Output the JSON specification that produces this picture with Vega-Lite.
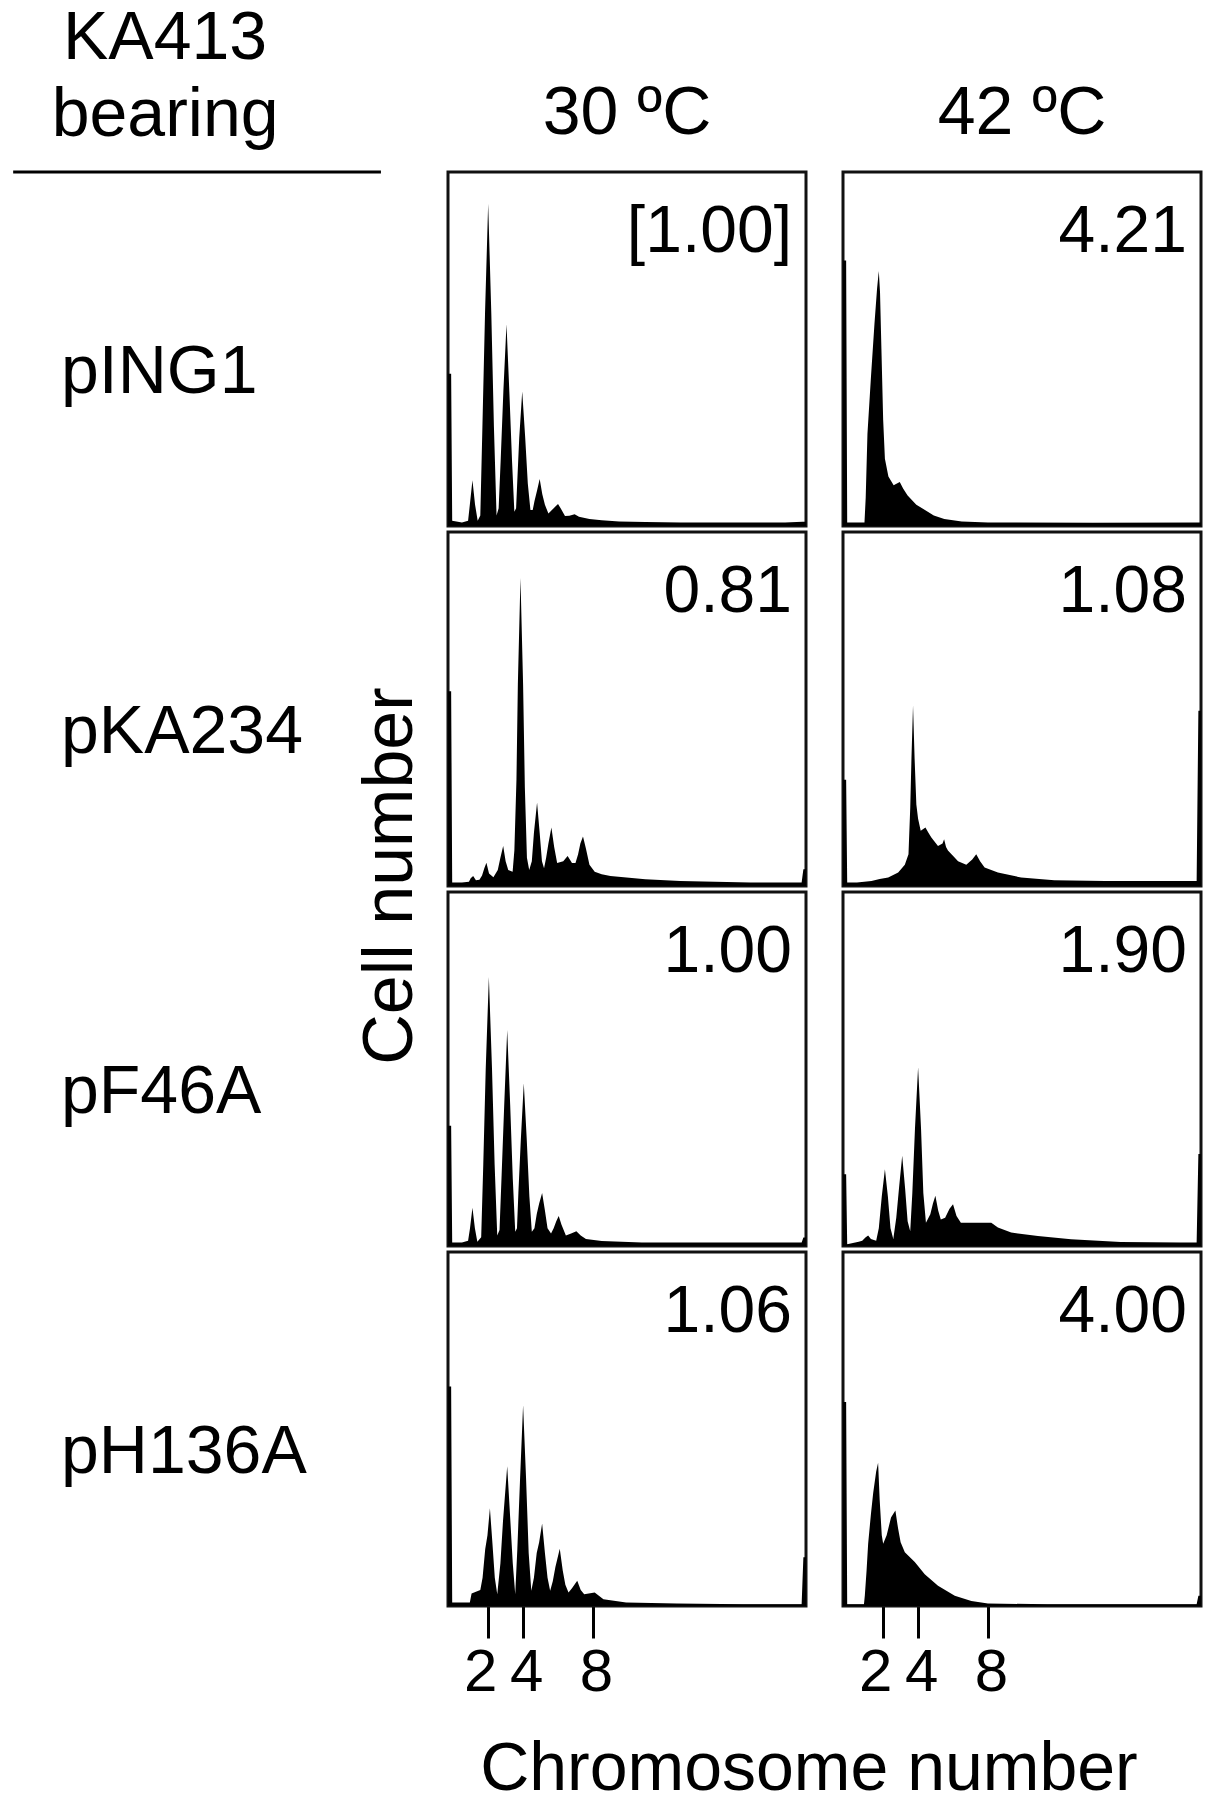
{
  "$schema": "https://vega.github.io/schema/vega-lite/v6.json",
  "padding": {"left": 10, "top": 3, "right": 5, "bottom": 0},
  "background": "white",
  "bounds": "flush",
  "spacing": {"row": 6, "column": 37},
  "data": {"values": [
    {"strain":"pING1","temp":"30 ºC","ratio":"[1.00]"},
    {"strain":"pING1","temp":"42 ºC","ratio":"4.21"},
    {"strain":"pKA234","temp":"30 ºC","ratio":"0.81"},
    {"strain":"pKA234","temp":"42 ºC","ratio":"1.08"},
    {"strain":"pF46A","temp":"30 ºC","ratio":"1.00"},
    {"strain":"pF46A","temp":"42 ºC","ratio":"1.90"},
    {"strain":"pH136A","temp":"30 ºC","ratio":"1.06"},
    {"strain":"pH136A","temp":"42 ºC","ratio":"4.00"},

    {"strain":"pING1","temp":"30 ºC","chrom":-0.3,"cells":43},
    {"strain":"pING1","temp":"30 ºC","chrom":-0.12,"cells":43},
    {"strain":"pING1","temp":"30 ºC","chrom":-0.06,"cells":1.5},
    {"strain":"pING1","temp":"30 ºC","chrom":0.5,"cells":1},
    {"strain":"pING1","temp":"30 ºC","chrom":0.85,"cells":1.5},
    {"strain":"pING1","temp":"30 ºC","chrom":0.95,"cells":6},
    {"strain":"pING1","temp":"30 ºC","chrom":1.1,"cells":12.9},
    {"strain":"pING1","temp":"30 ºC","chrom":1.25,"cells":6},
    {"strain":"pING1","temp":"30 ºC","chrom":1.4,"cells":1.5},
    {"strain":"pING1","temp":"30 ºC","chrom":1.55,"cells":3},
    {"strain":"pING1","temp":"30 ºC","chrom":1.67,"cells":28},
    {"strain":"pING1","temp":"30 ºC","chrom":1.82,"cells":60},
    {"strain":"pING1","temp":"30 ºC","chrom":2.0,"cells":91},
    {"strain":"pING1","temp":"30 ºC","chrom":2.18,"cells":60},
    {"strain":"pING1","temp":"30 ºC","chrom":2.33,"cells":28},
    {"strain":"pING1","temp":"30 ºC","chrom":2.48,"cells":3},
    {"strain":"pING1","temp":"30 ºC","chrom":2.6,"cells":5},
    {"strain":"pING1","temp":"30 ºC","chrom":2.72,"cells":19},
    {"strain":"pING1","temp":"30 ºC","chrom":2.87,"cells":38},
    {"strain":"pING1","temp":"30 ºC","chrom":3.05,"cells":57},
    {"strain":"pING1","temp":"30 ºC","chrom":3.22,"cells":37},
    {"strain":"pING1","temp":"30 ºC","chrom":3.37,"cells":18},
    {"strain":"pING1","temp":"30 ºC","chrom":3.5,"cells":4},
    {"strain":"pING1","temp":"30 ºC","chrom":3.6,"cells":5},
    {"strain":"pING1","temp":"30 ºC","chrom":3.67,"cells":13},
    {"strain":"pING1","temp":"30 ºC","chrom":3.78,"cells":25},
    {"strain":"pING1","temp":"30 ºC","chrom":3.95,"cells":38},
    {"strain":"pING1","temp":"30 ºC","chrom":4.12,"cells":25},
    {"strain":"pING1","temp":"30 ºC","chrom":4.27,"cells":12},
    {"strain":"pING1","temp":"30 ºC","chrom":4.42,"cells":4.5},
    {"strain":"pING1","temp":"30 ºC","chrom":4.55,"cells":4.5},
    {"strain":"pING1","temp":"30 ºC","chrom":4.65,"cells":7},
    {"strain":"pING1","temp":"30 ºC","chrom":4.8,"cells":10},
    {"strain":"pING1","temp":"30 ºC","chrom":4.95,"cells":13.3},
    {"strain":"pING1","temp":"30 ºC","chrom":5.1,"cells":9},
    {"strain":"pING1","temp":"30 ºC","chrom":5.25,"cells":6},
    {"strain":"pING1","temp":"30 ºC","chrom":5.45,"cells":3.5},
    {"strain":"pING1","temp":"30 ºC","chrom":5.65,"cells":4.5},
    {"strain":"pING1","temp":"30 ºC","chrom":5.85,"cells":5.5},
    {"strain":"pING1","temp":"30 ºC","chrom":6.0,"cells":6.2},
    {"strain":"pING1","temp":"30 ºC","chrom":6.15,"cells":5},
    {"strain":"pING1","temp":"30 ºC","chrom":6.4,"cells":2.8},
    {"strain":"pING1","temp":"30 ºC","chrom":6.65,"cells":2.9},
    {"strain":"pING1","temp":"30 ºC","chrom":6.95,"cells":3.3},
    {"strain":"pING1","temp":"30 ºC","chrom":7.2,"cells":2.6},
    {"strain":"pING1","temp":"30 ºC","chrom":7.8,"cells":2.0},
    {"strain":"pING1","temp":"30 ºC","chrom":8.5,"cells":1.6},
    {"strain":"pING1","temp":"30 ºC","chrom":9.5,"cells":1.3},
    {"strain":"pING1","temp":"30 ºC","chrom":11,"cells":1.1},
    {"strain":"pING1","temp":"30 ºC","chrom":13,"cells":1},
    {"strain":"pING1","temp":"30 ºC","chrom":16,"cells":1},
    {"strain":"pING1","temp":"30 ºC","chrom":19,"cells":1},
    {"strain":"pING1","temp":"30 ºC","chrom":20.0,"cells":1.2},
    {"strain":"pING1","temp":"30 ºC","chrom":20.2,"cells":1.2},

    {"strain":"pING1","temp":"42 ºC","chrom":-0.3,"cells":75},
    {"strain":"pING1","temp":"42 ºC","chrom":-0.12,"cells":75},
    {"strain":"pING1","temp":"42 ºC","chrom":-0.06,"cells":1},
    {"strain":"pING1","temp":"42 ºC","chrom":0.5,"cells":1},
    {"strain":"pING1","temp":"42 ºC","chrom":0.93,"cells":1},
    {"strain":"pING1","temp":"42 ºC","chrom":1.0,"cells":8},
    {"strain":"pING1","temp":"42 ºC","chrom":1.1,"cells":26},
    {"strain":"pING1","temp":"42 ºC","chrom":1.3,"cells":42},
    {"strain":"pING1","temp":"42 ºC","chrom":1.5,"cells":57},
    {"strain":"pING1","temp":"42 ºC","chrom":1.65,"cells":67},
    {"strain":"pING1","temp":"42 ºC","chrom":1.75,"cells":72},
    {"strain":"pING1","temp":"42 ºC","chrom":1.82,"cells":66},
    {"strain":"pING1","temp":"42 ºC","chrom":1.9,"cells":50},
    {"strain":"pING1","temp":"42 ºC","chrom":2.0,"cells":30},
    {"strain":"pING1","temp":"42 ºC","chrom":2.1,"cells":19},
    {"strain":"pING1","temp":"42 ºC","chrom":2.3,"cells":14},
    {"strain":"pING1","temp":"42 ºC","chrom":2.6,"cells":11.5},
    {"strain":"pING1","temp":"42 ºC","chrom":2.95,"cells":12.4},
    {"strain":"pING1","temp":"42 ºC","chrom":3.15,"cells":10.5},
    {"strain":"pING1","temp":"42 ºC","chrom":3.4,"cells":8.6},
    {"strain":"pING1","temp":"42 ºC","chrom":3.9,"cells":6},
    {"strain":"pING1","temp":"42 ºC","chrom":4.3,"cells":4.8},
    {"strain":"pING1","temp":"42 ºC","chrom":4.9,"cells":3},
    {"strain":"pING1","temp":"42 ºC","chrom":5.5,"cells":2},
    {"strain":"pING1","temp":"42 ºC","chrom":6.5,"cells":1.3},
    {"strain":"pING1","temp":"42 ºC","chrom":8,"cells":1},
    {"strain":"pING1","temp":"42 ºC","chrom":14,"cells":0.9},
    {"strain":"pING1","temp":"42 ºC","chrom":20.2,"cells":1},

    {"strain":"pKA234","temp":"30 ºC","chrom":-0.3,"cells":55},
    {"strain":"pKA234","temp":"30 ºC","chrom":-0.12,"cells":55},
    {"strain":"pKA234","temp":"30 ºC","chrom":-0.06,"cells":1},
    {"strain":"pKA234","temp":"30 ºC","chrom":0.5,"cells":1},
    {"strain":"pKA234","temp":"30 ºC","chrom":0.9,"cells":1.2},
    {"strain":"pKA234","temp":"30 ºC","chrom":1.0,"cells":2.2},
    {"strain":"pKA234","temp":"30 ºC","chrom":1.14,"cells":2.8},
    {"strain":"pKA234","temp":"30 ºC","chrom":1.3,"cells":1.6},
    {"strain":"pKA234","temp":"30 ºC","chrom":1.5,"cells":1.8},
    {"strain":"pKA234","temp":"30 ºC","chrom":1.65,"cells":3},
    {"strain":"pKA234","temp":"30 ºC","chrom":1.78,"cells":5},
    {"strain":"pKA234","temp":"30 ºC","chrom":1.9,"cells":6.6},
    {"strain":"pKA234","temp":"30 ºC","chrom":2.05,"cells":3.5},
    {"strain":"pKA234","temp":"30 ºC","chrom":2.3,"cells":2.5},
    {"strain":"pKA234","temp":"30 ºC","chrom":2.55,"cells":4.5},
    {"strain":"pKA234","temp":"30 ºC","chrom":2.7,"cells":8},
    {"strain":"pKA234","temp":"30 ºC","chrom":2.86,"cells":11.3},
    {"strain":"pKA234","temp":"30 ºC","chrom":3.0,"cells":7},
    {"strain":"pKA234","temp":"30 ºC","chrom":3.15,"cells":4.5},
    {"strain":"pKA234","temp":"30 ºC","chrom":3.4,"cells":4},
    {"strain":"pKA234","temp":"30 ºC","chrom":3.5,"cells":10},
    {"strain":"pKA234","temp":"30 ºC","chrom":3.62,"cells":30},
    {"strain":"pKA234","temp":"30 ºC","chrom":3.7,"cells":57},
    {"strain":"pKA234","temp":"30 ºC","chrom":3.85,"cells":87},
    {"strain":"pKA234","temp":"30 ºC","chrom":4.0,"cells":57},
    {"strain":"pKA234","temp":"30 ºC","chrom":4.1,"cells":28},
    {"strain":"pKA234","temp":"30 ºC","chrom":4.22,"cells":8},
    {"strain":"pKA234","temp":"30 ºC","chrom":4.35,"cells":4.5},
    {"strain":"pKA234","temp":"30 ºC","chrom":4.5,"cells":7},
    {"strain":"pKA234","temp":"30 ºC","chrom":4.62,"cells":15},
    {"strain":"pKA234","temp":"30 ºC","chrom":4.8,"cells":23.6},
    {"strain":"pKA234","temp":"30 ºC","chrom":4.95,"cells":15},
    {"strain":"pKA234","temp":"30 ºC","chrom":5.08,"cells":7},
    {"strain":"pKA234","temp":"30 ºC","chrom":5.2,"cells":5},
    {"strain":"pKA234","temp":"30 ºC","chrom":5.32,"cells":8},
    {"strain":"pKA234","temp":"30 ºC","chrom":5.45,"cells":12},
    {"strain":"pKA234","temp":"30 ºC","chrom":5.62,"cells":16.5},
    {"strain":"pKA234","temp":"30 ºC","chrom":5.78,"cells":11},
    {"strain":"pKA234","temp":"30 ºC","chrom":5.95,"cells":6.5},
    {"strain":"pKA234","temp":"30 ºC","chrom":6.3,"cells":7},
    {"strain":"pKA234","temp":"30 ºC","chrom":6.55,"cells":8.5},
    {"strain":"pKA234","temp":"30 ºC","chrom":6.8,"cells":6.5},
    {"strain":"pKA234","temp":"30 ºC","chrom":7.0,"cells":6.5},
    {"strain":"pKA234","temp":"30 ºC","chrom":7.15,"cells":9},
    {"strain":"pKA234","temp":"30 ºC","chrom":7.28,"cells":12},
    {"strain":"pKA234","temp":"30 ºC","chrom":7.43,"cells":14},
    {"strain":"pKA234","temp":"30 ºC","chrom":7.6,"cells":10.5},
    {"strain":"pKA234","temp":"30 ºC","chrom":7.8,"cells":6},
    {"strain":"pKA234","temp":"30 ºC","chrom":8.1,"cells":4},
    {"strain":"pKA234","temp":"30 ºC","chrom":8.5,"cells":3.3},
    {"strain":"pKA234","temp":"30 ºC","chrom":9.0,"cells":2.8},
    {"strain":"pKA234","temp":"30 ºC","chrom":11,"cells":1.9},
    {"strain":"pKA234","temp":"30 ºC","chrom":13,"cells":1.4},
    {"strain":"pKA234","temp":"30 ºC","chrom":17,"cells":1},
    {"strain":"pKA234","temp":"30 ºC","chrom":19.95,"cells":1},
    {"strain":"pKA234","temp":"30 ºC","chrom":20.05,"cells":4.7},
    {"strain":"pKA234","temp":"30 ºC","chrom":20.2,"cells":4.7},

    {"strain":"pKA234","temp":"42 ºC","chrom":-0.3,"cells":30},
    {"strain":"pKA234","temp":"42 ºC","chrom":-0.12,"cells":30},
    {"strain":"pKA234","temp":"42 ºC","chrom":-0.06,"cells":1},
    {"strain":"pKA234","temp":"42 ºC","chrom":0.5,"cells":1},
    {"strain":"pKA234","temp":"42 ºC","chrom":1.33,"cells":1.4},
    {"strain":"pKA234","temp":"42 ºC","chrom":1.8,"cells":2},
    {"strain":"pKA234","temp":"42 ºC","chrom":2.29,"cells":2.4},
    {"strain":"pKA234","temp":"42 ºC","chrom":2.86,"cells":3.8},
    {"strain":"pKA234","temp":"42 ºC","chrom":3.24,"cells":6},
    {"strain":"pKA234","temp":"42 ºC","chrom":3.45,"cells":9},
    {"strain":"pKA234","temp":"42 ºC","chrom":3.55,"cells":22},
    {"strain":"pKA234","temp":"42 ºC","chrom":3.62,"cells":36},
    {"strain":"pKA234","temp":"42 ºC","chrom":3.71,"cells":51},
    {"strain":"pKA234","temp":"42 ºC","chrom":3.8,"cells":36},
    {"strain":"pKA234","temp":"42 ºC","chrom":3.9,"cells":23},
    {"strain":"pKA234","temp":"42 ºC","chrom":4.0,"cells":19},
    {"strain":"pKA234","temp":"42 ºC","chrom":4.15,"cells":15.6},
    {"strain":"pKA234","temp":"42 ºC","chrom":4.42,"cells":16.5},
    {"strain":"pKA234","temp":"42 ºC","chrom":4.6,"cells":15},
    {"strain":"pKA234","temp":"42 ºC","chrom":4.76,"cells":13.7},
    {"strain":"pKA234","temp":"42 ºC","chrom":5.14,"cells":11.3},
    {"strain":"pKA234","temp":"42 ºC","chrom":5.4,"cells":12},
    {"strain":"pKA234","temp":"42 ºC","chrom":5.49,"cells":13.2},
    {"strain":"pKA234","temp":"42 ºC","chrom":5.6,"cells":11},
    {"strain":"pKA234","temp":"42 ºC","chrom":5.71,"cells":10},
    {"strain":"pKA234","temp":"42 ºC","chrom":6.29,"cells":7},
    {"strain":"pKA234","temp":"42 ºC","chrom":6.76,"cells":6},
    {"strain":"pKA234","temp":"42 ºC","chrom":7.1,"cells":7.5},
    {"strain":"pKA234","temp":"42 ºC","chrom":7.33,"cells":9},
    {"strain":"pKA234","temp":"42 ºC","chrom":7.55,"cells":7},
    {"strain":"pKA234","temp":"42 ºC","chrom":7.81,"cells":5.2},
    {"strain":"pKA234","temp":"42 ºC","chrom":8.57,"cells":3.8},
    {"strain":"pKA234","temp":"42 ºC","chrom":9.9,"cells":2.4},
    {"strain":"pKA234","temp":"42 ºC","chrom":11.8,"cells":1.6},
    {"strain":"pKA234","temp":"42 ºC","chrom":14.7,"cells":1.4},
    {"strain":"pKA234","temp":"42 ºC","chrom":17,"cells":1.4},
    {"strain":"pKA234","temp":"42 ºC","chrom":19.95,"cells":1.4},
    {"strain":"pKA234","temp":"42 ºC","chrom":20.05,"cells":49.5},
    {"strain":"pKA234","temp":"42 ºC","chrom":20.2,"cells":49.5},

    {"strain":"pF46A","temp":"30 ºC","chrom":-0.3,"cells":34},
    {"strain":"pF46A","temp":"30 ºC","chrom":-0.12,"cells":34},
    {"strain":"pF46A","temp":"30 ºC","chrom":-0.06,"cells":1},
    {"strain":"pF46A","temp":"30 ºC","chrom":0.5,"cells":1},
    {"strain":"pF46A","temp":"30 ºC","chrom":0.85,"cells":1.5},
    {"strain":"pF46A","temp":"30 ºC","chrom":0.96,"cells":5},
    {"strain":"pF46A","temp":"30 ºC","chrom":1.1,"cells":10.8},
    {"strain":"pF46A","temp":"30 ºC","chrom":1.24,"cells":5},
    {"strain":"pF46A","temp":"30 ºC","chrom":1.38,"cells":1.2},
    {"strain":"pF46A","temp":"30 ºC","chrom":1.6,"cells":2.5},
    {"strain":"pF46A","temp":"30 ºC","chrom":1.72,"cells":23},
    {"strain":"pF46A","temp":"30 ºC","chrom":1.86,"cells":50},
    {"strain":"pF46A","temp":"30 ºC","chrom":2.04,"cells":76},
    {"strain":"pF46A","temp":"30 ºC","chrom":2.22,"cells":50},
    {"strain":"pF46A","temp":"30 ºC","chrom":2.37,"cells":23},
    {"strain":"pF46A","temp":"30 ºC","chrom":2.52,"cells":3},
    {"strain":"pF46A","temp":"30 ºC","chrom":2.65,"cells":4.5},
    {"strain":"pF46A","temp":"30 ºC","chrom":2.77,"cells":20},
    {"strain":"pF46A","temp":"30 ºC","chrom":2.92,"cells":40},
    {"strain":"pF46A","temp":"30 ºC","chrom":3.09,"cells":61},
    {"strain":"pF46A","temp":"30 ºC","chrom":3.26,"cells":40},
    {"strain":"pF46A","temp":"30 ºC","chrom":3.41,"cells":19},
    {"strain":"pF46A","temp":"30 ºC","chrom":3.55,"cells":4},
    {"strain":"pF46A","temp":"30 ºC","chrom":3.65,"cells":5},
    {"strain":"pF46A","temp":"30 ºC","chrom":3.73,"cells":15},
    {"strain":"pF46A","temp":"30 ºC","chrom":3.87,"cells":30},
    {"strain":"pF46A","temp":"30 ºC","chrom":4.04,"cells":46},
    {"strain":"pF46A","temp":"30 ºC","chrom":4.21,"cells":30},
    {"strain":"pF46A","temp":"30 ºC","chrom":4.36,"cells":14},
    {"strain":"pF46A","temp":"30 ºC","chrom":4.5,"cells":4},
    {"strain":"pF46A","temp":"30 ºC","chrom":4.65,"cells":5},
    {"strain":"pF46A","temp":"30 ºC","chrom":4.78,"cells":9},
    {"strain":"pF46A","temp":"30 ºC","chrom":4.92,"cells":12},
    {"strain":"pF46A","temp":"30 ºC","chrom":5.09,"cells":15},
    {"strain":"pF46A","temp":"30 ºC","chrom":5.25,"cells":10},
    {"strain":"pF46A","temp":"30 ºC","chrom":5.4,"cells":5},
    {"strain":"pF46A","temp":"30 ºC","chrom":5.6,"cells":3.5},
    {"strain":"pF46A","temp":"30 ºC","chrom":5.75,"cells":5},
    {"strain":"pF46A","temp":"30 ºC","chrom":5.9,"cells":7},
    {"strain":"pF46A","temp":"30 ºC","chrom":6.04,"cells":8.5},
    {"strain":"pF46A","temp":"30 ºC","chrom":6.2,"cells":6},
    {"strain":"pF46A","temp":"30 ºC","chrom":6.45,"cells":3},
    {"strain":"pF46A","temp":"30 ºC","chrom":6.75,"cells":3.5},
    {"strain":"pF46A","temp":"30 ºC","chrom":7.05,"cells":4.2},
    {"strain":"pF46A","temp":"30 ºC","chrom":7.3,"cells":3},
    {"strain":"pF46A","temp":"30 ºC","chrom":7.6,"cells":2},
    {"strain":"pF46A","temp":"30 ºC","chrom":8.5,"cells":1.4},
    {"strain":"pF46A","temp":"30 ºC","chrom":10.8,"cells":1},
    {"strain":"pF46A","temp":"30 ºC","chrom":14,"cells":1},
    {"strain":"pF46A","temp":"30 ºC","chrom":19.95,"cells":1},
    {"strain":"pF46A","temp":"30 ºC","chrom":20.05,"cells":2.4},
    {"strain":"pF46A","temp":"30 ºC","chrom":20.2,"cells":2.4},

    {"strain":"pF46A","temp":"42 ºC","chrom":-0.3,"cells":20.3},
    {"strain":"pF46A","temp":"42 ºC","chrom":-0.12,"cells":20.3},
    {"strain":"pF46A","temp":"42 ºC","chrom":-0.06,"cells":0.5},
    {"strain":"pF46A","temp":"42 ºC","chrom":0.4,"cells":1},
    {"strain":"pF46A","temp":"42 ºC","chrom":0.6,"cells":1.2},
    {"strain":"pF46A","temp":"42 ºC","chrom":0.8,"cells":1.5},
    {"strain":"pF46A","temp":"42 ºC","chrom":1.0,"cells":2.5},
    {"strain":"pF46A","temp":"42 ºC","chrom":1.14,"cells":3},
    {"strain":"pF46A","temp":"42 ºC","chrom":1.3,"cells":2},
    {"strain":"pF46A","temp":"42 ºC","chrom":1.6,"cells":1.5},
    {"strain":"pF46A","temp":"42 ºC","chrom":1.75,"cells":5},
    {"strain":"pF46A","temp":"42 ºC","chrom":1.92,"cells":14},
    {"strain":"pF46A","temp":"42 ºC","chrom":2.1,"cells":21.7},
    {"strain":"pF46A","temp":"42 ºC","chrom":2.27,"cells":14},
    {"strain":"pF46A","temp":"42 ºC","chrom":2.42,"cells":5},
    {"strain":"pF46A","temp":"42 ºC","chrom":2.58,"cells":2},
    {"strain":"pF46A","temp":"42 ºC","chrom":2.75,"cells":8},
    {"strain":"pF46A","temp":"42 ºC","chrom":2.92,"cells":17},
    {"strain":"pF46A","temp":"42 ºC","chrom":3.09,"cells":25.5},
    {"strain":"pF46A","temp":"42 ºC","chrom":3.26,"cells":16},
    {"strain":"pF46A","temp":"42 ºC","chrom":3.4,"cells":7},
    {"strain":"pF46A","temp":"42 ºC","chrom":3.55,"cells":4.2},
    {"strain":"pF46A","temp":"42 ºC","chrom":3.67,"cells":15},
    {"strain":"pF46A","temp":"42 ºC","chrom":3.82,"cells":33},
    {"strain":"pF46A","temp":"42 ºC","chrom":4.0,"cells":50.5},
    {"strain":"pF46A","temp":"42 ºC","chrom":4.17,"cells":33},
    {"strain":"pF46A","temp":"42 ºC","chrom":4.3,"cells":15},
    {"strain":"pF46A","temp":"42 ºC","chrom":4.45,"cells":6.6},
    {"strain":"pF46A","temp":"42 ºC","chrom":4.7,"cells":9},
    {"strain":"pF46A","temp":"42 ºC","chrom":4.85,"cells":12},
    {"strain":"pF46A","temp":"42 ºC","chrom":4.99,"cells":14.2},
    {"strain":"pF46A","temp":"42 ºC","chrom":5.15,"cells":10},
    {"strain":"pF46A","temp":"42 ºC","chrom":5.3,"cells":7.5},
    {"strain":"pF46A","temp":"42 ºC","chrom":5.55,"cells":8},
    {"strain":"pF46A","temp":"42 ºC","chrom":5.8,"cells":10.5},
    {"strain":"pF46A","temp":"42 ºC","chrom":6.0,"cells":11.8},
    {"strain":"pF46A","temp":"42 ºC","chrom":6.2,"cells":8.5},
    {"strain":"pF46A","temp":"42 ºC","chrom":6.45,"cells":6.6},
    {"strain":"pF46A","temp":"42 ºC","chrom":7.5,"cells":6.6},
    {"strain":"pF46A","temp":"42 ºC","chrom":8.19,"cells":6.6},
    {"strain":"pF46A","temp":"42 ºC","chrom":8.57,"cells":5.2},
    {"strain":"pF46A","temp":"42 ºC","chrom":9.33,"cells":3.8},
    {"strain":"pF46A","temp":"42 ºC","chrom":10.86,"cells":2.8},
    {"strain":"pF46A","temp":"42 ºC","chrom":12.76,"cells":1.9},
    {"strain":"pF46A","temp":"42 ºC","chrom":15.6,"cells":1.1},
    {"strain":"pF46A","temp":"42 ºC","chrom":19,"cells":1},
    {"strain":"pF46A","temp":"42 ºC","chrom":19.95,"cells":1},
    {"strain":"pF46A","temp":"42 ºC","chrom":20.05,"cells":26},
    {"strain":"pF46A","temp":"42 ºC","chrom":20.2,"cells":26},

    {"strain":"pH136A","temp":"30 ºC","chrom":-0.3,"cells":62},
    {"strain":"pH136A","temp":"30 ºC","chrom":-0.12,"cells":62},
    {"strain":"pH136A","temp":"30 ºC","chrom":-0.06,"cells":1},
    {"strain":"pH136A","temp":"30 ºC","chrom":0.5,"cells":1},
    {"strain":"pH136A","temp":"30 ºC","chrom":0.95,"cells":1},
    {"strain":"pH136A","temp":"30 ºC","chrom":1.05,"cells":3.5},
    {"strain":"pH136A","temp":"30 ºC","chrom":1.3,"cells":4},
    {"strain":"pH136A","temp":"30 ºC","chrom":1.55,"cells":4.5},
    {"strain":"pH136A","temp":"30 ºC","chrom":1.68,"cells":8},
    {"strain":"pH136A","temp":"30 ºC","chrom":1.83,"cells":16},
    {"strain":"pH136A","temp":"30 ºC","chrom":1.96,"cells":20},
    {"strain":"pH136A","temp":"30 ºC","chrom":2.1,"cells":27.6},
    {"strain":"pH136A","temp":"30 ºC","chrom":2.24,"cells":18},
    {"strain":"pH136A","temp":"30 ºC","chrom":2.38,"cells":8},
    {"strain":"pH136A","temp":"30 ºC","chrom":2.52,"cells":3.3},
    {"strain":"pH136A","temp":"30 ºC","chrom":2.7,"cells":12},
    {"strain":"pH136A","temp":"30 ºC","chrom":2.85,"cells":24},
    {"strain":"pH136A","temp":"30 ºC","chrom":3.09,"cells":39.5},
    {"strain":"pH136A","temp":"30 ºC","chrom":3.26,"cells":25},
    {"strain":"pH136A","temp":"30 ºC","chrom":3.41,"cells":12},
    {"strain":"pH136A","temp":"30 ºC","chrom":3.55,"cells":3.3},
    {"strain":"pH136A","temp":"30 ºC","chrom":3.67,"cells":16},
    {"strain":"pH136A","temp":"30 ºC","chrom":3.82,"cells":35},
    {"strain":"pH136A","temp":"30 ºC","chrom":4.0,"cells":56.7},
    {"strain":"pH136A","temp":"30 ºC","chrom":4.17,"cells":36},
    {"strain":"pH136A","temp":"30 ºC","chrom":4.32,"cells":15},
    {"strain":"pH136A","temp":"30 ºC","chrom":4.47,"cells":4.3},
    {"strain":"pH136A","temp":"30 ºC","chrom":4.62,"cells":8},
    {"strain":"pH136A","temp":"30 ºC","chrom":4.78,"cells":15},
    {"strain":"pH136A","temp":"30 ºC","chrom":4.92,"cells":18},
    {"strain":"pH136A","temp":"30 ºC","chrom":5.09,"cells":23.3},
    {"strain":"pH136A","temp":"30 ºC","chrom":5.25,"cells":15},
    {"strain":"pH136A","temp":"30 ºC","chrom":5.4,"cells":8},
    {"strain":"pH136A","temp":"30 ºC","chrom":5.55,"cells":4.3},
    {"strain":"pH136A","temp":"30 ºC","chrom":5.7,"cells":7},
    {"strain":"pH136A","temp":"30 ºC","chrom":5.85,"cells":11},
    {"strain":"pH136A","temp":"30 ºC","chrom":6.1,"cells":16.2},
    {"strain":"pH136A","temp":"30 ºC","chrom":6.27,"cells":10},
    {"strain":"pH136A","temp":"30 ºC","chrom":6.42,"cells":6},
    {"strain":"pH136A","temp":"30 ºC","chrom":6.6,"cells":3.8},
    {"strain":"pH136A","temp":"30 ºC","chrom":6.8,"cells":5},
    {"strain":"pH136A","temp":"30 ºC","chrom":7.1,"cells":7.1},
    {"strain":"pH136A","temp":"30 ºC","chrom":7.3,"cells":4.5},
    {"strain":"pH136A","temp":"30 ºC","chrom":7.5,"cells":3.3},
    {"strain":"pH136A","temp":"30 ºC","chrom":8.1,"cells":3.8},
    {"strain":"pH136A","temp":"30 ºC","chrom":8.6,"cells":1.9},
    {"strain":"pH136A","temp":"30 ºC","chrom":9.9,"cells":1},
    {"strain":"pH136A","temp":"30 ºC","chrom":12.8,"cells":0.7},
    {"strain":"pH136A","temp":"30 ºC","chrom":16.6,"cells":0.5},
    {"strain":"pH136A","temp":"30 ºC","chrom":19.95,"cells":0.5},
    {"strain":"pH136A","temp":"30 ºC","chrom":20.05,"cells":13.8},
    {"strain":"pH136A","temp":"30 ºC","chrom":20.2,"cells":13.8},

    {"strain":"pH136A","temp":"42 ºC","chrom":-0.3,"cells":57.6},
    {"strain":"pH136A","temp":"42 ºC","chrom":-0.12,"cells":57.6},
    {"strain":"pH136A","temp":"42 ºC","chrom":-0.06,"cells":0.5},
    {"strain":"pH136A","temp":"42 ºC","chrom":0.5,"cells":0.5},
    {"strain":"pH136A","temp":"42 ºC","chrom":0.9,"cells":0.5},
    {"strain":"pH136A","temp":"42 ºC","chrom":0.95,"cells":3},
    {"strain":"pH136A","temp":"42 ºC","chrom":1.05,"cells":10},
    {"strain":"pH136A","temp":"42 ºC","chrom":1.14,"cells":17.6},
    {"strain":"pH136A","temp":"42 ºC","chrom":1.3,"cells":26},
    {"strain":"pH136A","temp":"42 ºC","chrom":1.43,"cells":32},
    {"strain":"pH136A","temp":"42 ºC","chrom":1.6,"cells":38},
    {"strain":"pH136A","temp":"42 ºC","chrom":1.71,"cells":40.5},
    {"strain":"pH136A","temp":"42 ºC","chrom":1.8,"cells":30},
    {"strain":"pH136A","temp":"42 ºC","chrom":1.92,"cells":20},
    {"strain":"pH136A","temp":"42 ºC","chrom":2.0,"cells":17.6},
    {"strain":"pH136A","temp":"42 ºC","chrom":2.2,"cells":20},
    {"strain":"pH136A","temp":"42 ºC","chrom":2.45,"cells":25},
    {"strain":"pH136A","temp":"42 ºC","chrom":2.7,"cells":27},
    {"strain":"pH136A","temp":"42 ºC","chrom":2.85,"cells":22},
    {"strain":"pH136A","temp":"42 ºC","chrom":3.0,"cells":18},
    {"strain":"pH136A","temp":"42 ºC","chrom":3.24,"cells":15.2},
    {"strain":"pH136A","temp":"42 ºC","chrom":3.81,"cells":12.4},
    {"strain":"pH136A","temp":"42 ºC","chrom":4.38,"cells":9},
    {"strain":"pH136A","temp":"42 ºC","chrom":5.14,"cells":5.7},
    {"strain":"pH136A","temp":"42 ºC","chrom":6.1,"cells":2.9},
    {"strain":"pH136A","temp":"42 ºC","chrom":7.05,"cells":1.4},
    {"strain":"pH136A","temp":"42 ºC","chrom":8.0,"cells":0.7},
    {"strain":"pH136A","temp":"42 ºC","chrom":11.4,"cells":0.5},
    {"strain":"pH136A","temp":"42 ºC","chrom":19.95,"cells":0.5},
    {"strain":"pH136A","temp":"42 ºC","chrom":20.05,"cells":2.9},
    {"strain":"pH136A","temp":"42 ºC","chrom":20.2,"cells":2.9}
  ]},
  "facet": {
    "row": {
      "field": "strain", "type": "nominal",
      "sort": ["pING1", "pKA234", "pF46A", "pH136A"],
      "title": null,
      "header": {"labels": false}
    },
    "column": {
      "field": "temp", "type": "nominal",
      "sort": ["30 ºC", "42 ºC"],
      "title": null,
      "header": {
        "labelOrient": "top", "labelFontSize": 68, "labelFont": "Liberation Sans",
        "labelColor": "black", "labelBaseline": "alphabetic", "labelPadding": -30
      }
    }
  },
  "spec": {
    "width": 358,
    "height": 354,
    "layer": [
      {
        "transform": [{"filter": "isValid(datum.chrom)"}],
        "mark": {"type": "area", "color": "black", "interpolate": "linear", "clip": true},
        "encoding": {
          "x": {"field": "chrom", "type": "quantitative", "scale": {"domain": [-0.3, 20.2], "nice": false, "zero": false}, "axis": {"values": [2, 4, 8], "title": null, "labelOffset": {"condition": {"test": "datum.value === 2", "value": -8}, "value": 3}}},
          "y": {"field": "cells", "type": "quantitative", "stack": null, "scale": {"domain": [0, 100], "nice": false}, "axis": null}
        }
      },
      {
        "transform": [{"filter": "isValid(datum.ratio)"}],
        "mark": {"type": "text", "align": "right", "baseline": "alphabetic", "dx": -14, "fontSize": 66, "color": "black", "font": "Liberation Sans"},
        "encoding": {
          "x": {"datum": 20.2, "type": "quantitative", "scale": {"domain": [-0.3, 20.2], "nice": false, "zero": false}, "axis": {"values": [2, 4, 8], "title": null, "labelOffset": {"condition": {"test": "datum.value === 2", "value": -8}, "value": 3}}},
          "y": {"datum": 77.4, "type": "quantitative", "scale": {"domain": [0, 100], "nice": false}, "axis": null},
          "text": {"field": "ratio"}
        }
      },
      {
        "transform": [{"filter": "isValid(datum.ratio) && datum.temp === '30 ºC'"}],
        "mark": {"type": "text", "align": "left", "baseline": "alphabetic", "fontSize": 68, "color": "black", "font": "Liberation Sans", "clip": false},
        "encoding": {
          "x": {"datum": -22.46, "type": "quantitative", "scale": {"domain": [-0.3, 20.2], "nice": false, "zero": false}, "axis": {"values": [2, 4, 8], "title": null, "labelOffset": {"condition": {"test": "datum.value === 2", "value": -8}, "value": 3}}},
          "y": {"datum": 37.6, "type": "quantitative", "scale": {"domain": [0, 100], "nice": false}, "axis": null},
          "text": {"field": "strain"}
        }
      },
      {
        "transform": [{"filter": "datum.ratio === '[1.00]'"}],
        "mark": {"type": "rule", "strokeWidth": 3, "color": "black", "clip": false},
        "encoding": {
          "x": {"datum": -25.2, "type": "quantitative", "scale": {"domain": [-0.3, 20.2], "nice": false, "zero": false}, "axis": {"values": [2, 4, 8], "title": null, "labelOffset": {"condition": {"test": "datum.value === 2", "value": -8}, "value": 3}}},
          "x2": {"datum": -4.14},
          "y": {"datum": 100, "type": "quantitative", "scale": {"domain": [0, 100], "nice": false}, "axis": null}
        }
      },
      {
        "transform": [{"filter": "datum.ratio === '[1.00]'"}],
        "mark": {"type": "text", "align": "center", "baseline": "alphabetic", "fontSize": 68, "color": "black", "font": "Liberation Sans", "clip": false},
        "encoding": {
          "x": {"datum": -16.5, "type": "quantitative", "scale": {"domain": [-0.3, 20.2], "nice": false, "zero": false}, "axis": {"values": [2, 4, 8], "title": null, "labelOffset": {"condition": {"test": "datum.value === 2", "value": -8}, "value": 3}}},
          "y": {"datum": 132.0, "type": "quantitative", "scale": {"domain": [0, 100], "nice": false}, "axis": null},
          "text": {"value": "KA413"}
        }
      },
      {
        "transform": [{"filter": "datum.ratio === '[1.00]'"}],
        "mark": {"type": "text", "align": "center", "baseline": "alphabetic", "fontSize": 68, "color": "black", "font": "Liberation Sans", "clip": false},
        "encoding": {
          "x": {"datum": -16.5, "type": "quantitative", "scale": {"domain": [-0.3, 20.2], "nice": false, "zero": false}, "axis": {"values": [2, 4, 8], "title": null, "labelOffset": {"condition": {"test": "datum.value === 2", "value": -8}, "value": 3}}},
          "y": {"datum": 110.2, "type": "quantitative", "scale": {"domain": [0, 100], "nice": false}, "axis": null},
          "text": {"value": "bearing"}
        }
      },
      {
        "transform": [{"filter": "datum.ratio === '0.81'"}],
        "mark": {"type": "text", "align": "center", "baseline": "alphabetic", "angle": 270, "fontSize": 70, "color": "black", "font": "Liberation Sans", "clip": false},
        "encoding": {
          "x": {"datum": -2.36, "type": "quantitative", "scale": {"domain": [-0.3, 20.2], "nice": false, "zero": false}, "axis": {"values": [2, 4, 8], "title": null, "labelOffset": {"condition": {"test": "datum.value === 2", "value": -8}, "value": 3}}},
          "y": {"datum": 2.8, "type": "quantitative", "scale": {"domain": [0, 100], "nice": false}, "axis": null},
          "text": {"value": "Cell number"}
        }
      },
      {
        "transform": [{"filter": "datum.ratio === '1.06'"}],
        "mark": {"type": "text", "align": "center", "baseline": "alphabetic", "fontSize": 68, "color": "black", "font": "Liberation Sans", "clip": false},
        "encoding": {
          "x": {"datum": 20.37, "type": "quantitative", "scale": {"domain": [-0.3, 20.2], "nice": false, "zero": false}, "axis": {"values": [2, 4, 8], "title": null, "labelOffset": {"condition": {"test": "datum.value === 2", "value": -8}, "value": 3}}},
          "y": {"datum": -52.0, "type": "quantitative", "scale": {"domain": [0, 100], "nice": false}, "axis": null},
          "text": {"value": "Chromosome number"}
        }
      }
    ]
  },
  "config": {
    "font": "Liberation Sans",
    "view": {"stroke": "#111111", "strokeWidth": 3},
    "axisX": {
      "domain": false, "grid": false, "ticks": true, "tickSize": 32, "tickWidth": 3,
      "tickColor": "black", "labelFontSize": 60, "labelColor": "black", "labelPadding": 5,
      "labelFont": "Liberation Sans", "labelAngle": 0, "labelOverlap": false, "labelFlush": false
    },
    "header": {"labelColor": "black", "titleColor": "black"}
  }
}
